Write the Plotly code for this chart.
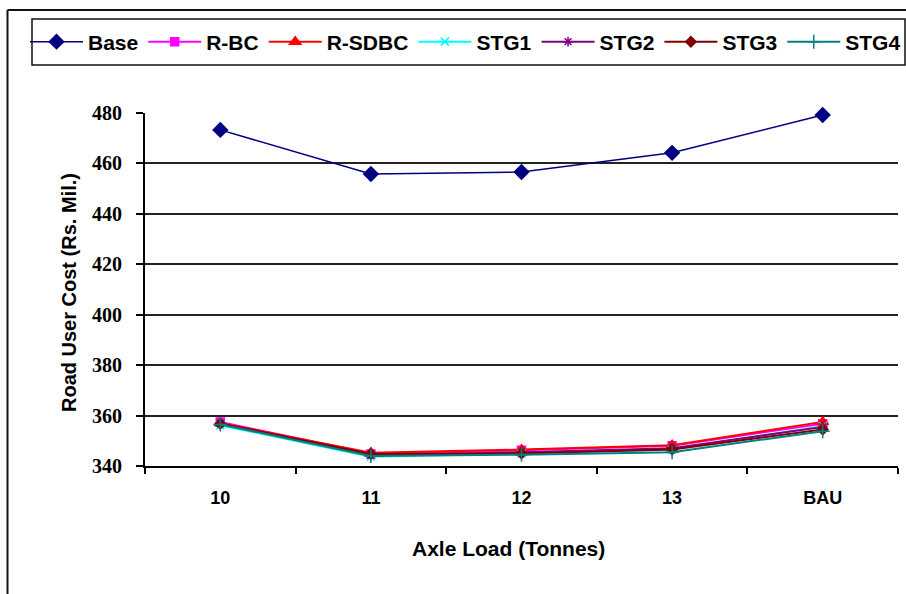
import plotly.graph_objects as go

categories = ["10", "11", "12", "13", "BAU"]
base = [473.3, 455.8, 456.6, 464.2, 479.2]
r_bc = [357.5, 344.8, 346.2, 348.0, 356.8]
r_sdbc = [357.0, 345.3, 346.5, 348.2, 357.5]
stg1 = [356.2, 343.7, 345.0, 346.5, 355.8]
stg2 = [356.8, 344.2, 345.5, 347.0, 355.5]
stg3 = [356.8, 344.8, 345.0, 346.5, 354.5]
stg4 = [356.5, 344.0, 344.5, 345.5, 353.8]

series = [
    ("Base", base, "#000080", "diamond", 11, 1.5),
    ("R-BC", r_bc, "#FF00FF", "square", 8, 2),
    ("R-SDBC", r_sdbc, "#FF0000", "triangle-up", 10, 2),
    ("STG1", stg1, "#00FFFF", "x-thin", 8, 2),
    ("STG2", stg2, "#800080", "asterisk", 8, 2),
    ("STG3", stg3, "#800000", "diamond", 8, 2),
    ("STG4", stg4, "#008080", "cross-thin", 10, 2),
]

fig = go.Figure()
for name, vals, color, sym, size, lw in series:
    fig.add_trace(go.Scatter(
        x=categories, y=vals, name=name, mode="lines+markers",
        line=dict(color=color, width=lw), cliponaxis=False,
        marker=dict(symbol=sym, size=size, color=color,
                    line=dict(color=color, width=1.5)),
    ))

W, H = 906, 594
L, R, T, B = 145, 8, 113, 128
pw, ph = W - L - R, H - T - B

def px(x):
    return (x - L) / pw

def py(y):
    return 1 - (y - T) / ph

shapes = [
    dict(type="line", xref="paper", yref="paper", x0=px(7.5), x1=px(7.5),
         y0=py(10), y1=py(600), line=dict(color="#111", width=2)),
    dict(type="line", xref="paper", yref="paper", x0=px(7.5), x1=px(910),
         y0=py(10), y1=py(10), line=dict(color="#111", width=2)),
    dict(type="rect", xref="paper", yref="paper", x0=px(32), x1=px(905),
         y0=py(65), y1=py(19), line=dict(color="#111", width=1.5)),
]

fig.update_layout(
    width=W, height=H, autosize=False,
    margin=dict(l=L, r=R, t=T, b=B, pad=0),
    paper_bgcolor="white", plot_bgcolor="white",
    font=dict(family="Liberation Sans, Arial", color="black"),
    shapes=shapes,
    showlegend=True,
    legend=dict(
        orientation="h", xref="paper", yref="paper",
        x=px(33), xanchor="left", y=py(42), yanchor="middle",
        font=dict(family="Liberation Sans, Arial", size=21, weight="bold", color="black"),
        itemwidth=53, borderwidth=0, bgcolor="rgba(0,0,0,0)",
        tracegroupgap=0,
    ),
    annotations=[
        dict(text="<b>Road User Cost (Rs. Mil.)</b>", xref="paper", yref="paper",
             x=px(69), y=py(293), textangle=-90, showarrow=False,
             font=dict(family="Liberation Sans, Arial", size=20, color="black"),
             xanchor="center", yanchor="middle"),
        dict(text="<b>Axle Load (Tonnes)</b>", xref="paper", yref="paper",
             x=px(508), y=py(548), showarrow=False,
             font=dict(family="Liberation Sans, Arial", size=21, color="black"),
             xanchor="center", yanchor="middle"),
    ],
)

fig.update_xaxes(
    type="category", tickson="boundaries", ticks="outside", ticklen=6,
    range=[-0.5, 4.5],
    tickcolor="black", tickwidth=2, showline=True, linecolor="black", linewidth=2,
    showgrid=False, ticklabelstandoff=14,
    tickfont=dict(family="Liberation Sans, Arial", size=18, weight="bold", color="black"),
)
fig.update_yaxes(
    range=[340, 480], dtick=20, tick0=340, ticks="outside", ticklen=7,
    tickcolor="black", tickwidth=2, showline=True, linecolor="black", linewidth=2,
    showgrid=True, gridcolor="#222", gridwidth=1.5, zeroline=False,
    ticklabelstandoff=10,
    tickfont=dict(family="Times New Roman, Liberation Serif, serif", size=20, weight="bold", color="black"),
)

fig.write_html("out.html")
